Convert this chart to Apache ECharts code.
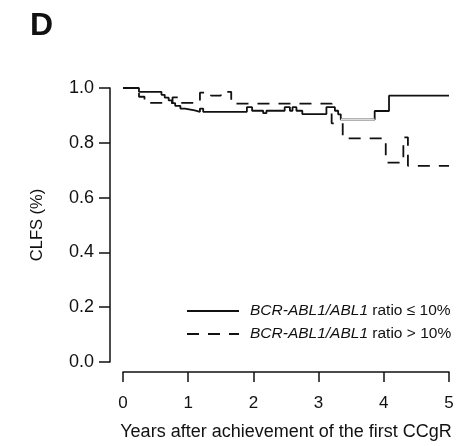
<!DOCTYPE html>
<html>
<head>
<meta charset="utf-8">
<script src="https://cdn.jsdelivr.net/npm/echarts@6/dist/echarts.min.js"></script>
<style>
    html, body { margin: 0; padding: 0; background: #fff; }
    #main { width: 474px; height: 446px; }
</style>
</head>
<body>
<div id="main"></div>
<script>
// BCR-ABL1/ABL1 ratio <= 10%
var lowTimes  = [0, 0.245, 0.59, 0.64, 0.70, 0.75, 0.80, 0.88, 0.95, 1.10, 1.18, 1.23, 1.90, 1.98, 2.15, 2.20, 2.48, 2.56, 2.60, 2.66, 2.75, 3.12, 3.25, 3.30, 3.34, 3.86, 4.08, 5.0];
var lowValues = [1.0, 0.986, 0.975, 0.965, 0.955, 0.945, 0.935, 0.925, 0.918, 0.913, 0.925, 0.913, 0.930, 0.917, 0.908, 0.917, 0.930, 0.917, 0.930, 0.917, 0.905, 0.930, 0.917, 0.904, 0.885, 0.916, 0.972, 0.972];

// BCR-ABL1/ABL1 ratio > 10%
var highTimes  = [0, 0.245, 0.33, 0.76, 0.85, 1.18, 1.35, 1.50, 1.66, 3.20, 3.37, 4.03, 4.30, 4.37, 5.0];
var highValues = [1.0, 0.968, 0.946, 0.966, 0.946, 0.983, 0.972, 0.986, 0.943, 0.871, 0.816, 0.728, 0.820, 0.716, 0.716];

// faint grey piece of the solid curve
var greyTimes  = [3.34, 3.86];
var greyValues = [0.885, 0.885];

var xTicks = [0, 1, 2, 3, 4, 5];
var yTicks = [0, 0.2, 0.4, 0.6, 0.8, 1.0];

var seriesNames = ['BCR-ABL1/ABL1 ratio ≤ 10%', 'BCR-ABL1/ABL1 ratio > 10%'];

function pairs(xs, ys) {
    var res = [];
    for (var i = 0; i < xs.length; i++) {
        res.push([xs[i], ys[i]]);
    }
    return res;
}

var chart = echarts.init(document.getElementById('main'));

var option = {
    animation: false,
    backgroundColor: '#fff',
    textStyle: {fontFamily: 'Liberation Sans, Arial, sans-serif', color: '#111'},
    title: {
        text: 'D',
        left: 25,
        top: 5,
        textStyle: {fontSize: 32, fontWeight: 'bold', color: '#111', fontFamily: 'Liberation Sans, Arial, sans-serif'}
    },
    grid: {left: 123, right: 25, top: 88, bottom: 84},
    legend: {
        orient: 'vertical',
        left: 181,
        top: 298,
        itemWidth: 52,
        itemHeight: 14,
        itemGap: 7,
        data: seriesNames,
        itemStyle: {opacity: 0},
        formatter: function (name) {
            return name.replace('BCR-ABL1/ABL1', '{i|BCR-ABL1/ABL1}');
        },
        textStyle: {
            fontSize: 15.5,
            color: '#111',
            padding: [0, 0, 0, 6],
            rich: {
                i: {fontStyle: 'italic', fontSize: 15.5, color: '#111'}
            }
        }
    },
    xAxis: {
        type: 'value',
        min: 0,
        max: 5,
        interval: 1,
        offset: 10,
        name: 'Years after achievement of the first CCgR',
        nameLocation: 'middle',
        nameGap: 51,
        nameTextStyle: {fontSize: 18, color: '#111'},
        axisLine: {show: true, onZero: false, lineStyle: {color: '#111', width: 1.5}},
        axisTick: {show: true, length: 10, lineStyle: {color: '#111', width: 1.5}},
        axisLabel: {
            fontSize: 17,
            color: '#111',
            margin: 23,
            formatter: function (v) { return xTicks.indexOf(v) >= 0 ? String(v) : ''; }
        },
        splitLine: {show: false}
    },
    yAxis: {
        type: 'value',
        min: 0,
        max: 1,
        interval: 0.2,
        offset: 13,
        name: 'CLFS (%)',
        nameLocation: 'middle',
        nameGap: 64,
        nameTextStyle: {fontSize: 16.5, color: '#111'},
        axisLine: {show: true, onZero: false, lineStyle: {color: '#111', width: 1.5}},
        axisTick: {show: true, length: 11, lineStyle: {color: '#111', width: 1.5}},
        axisLabel: {
            fontSize: 18,
            color: '#111',
            margin: 16,
            formatter: function (v) { return v.toFixed(1); }
        },
        splitLine: {show: false}
    },
    series: [
        {
            name: seriesNames[1],
            type: 'line',
            step: 'end',
            symbol: 'none',
            data: pairs(highTimes, highValues),
            itemStyle: {color: '#111'},
            lineStyle: {color: '#111', width: 1.8, type: [12, 9]}
        },
        {
            name: seriesNames[0],
            type: 'line',
            step: 'end',
            symbol: 'none',
            data: pairs(lowTimes, lowValues),
            itemStyle: {color: '#111'},
            lineStyle: {color: '#111', width: 1.8}
        },
        {
            name: 'grey',
            type: 'line',
            symbol: 'none',
            z: 5,
            data: pairs(greyTimes, greyValues),
            lineStyle: {color: '#ddd', width: 2.2}
        }
    ]
};

chart.setOption(option);
</script>
</body>
</html>
